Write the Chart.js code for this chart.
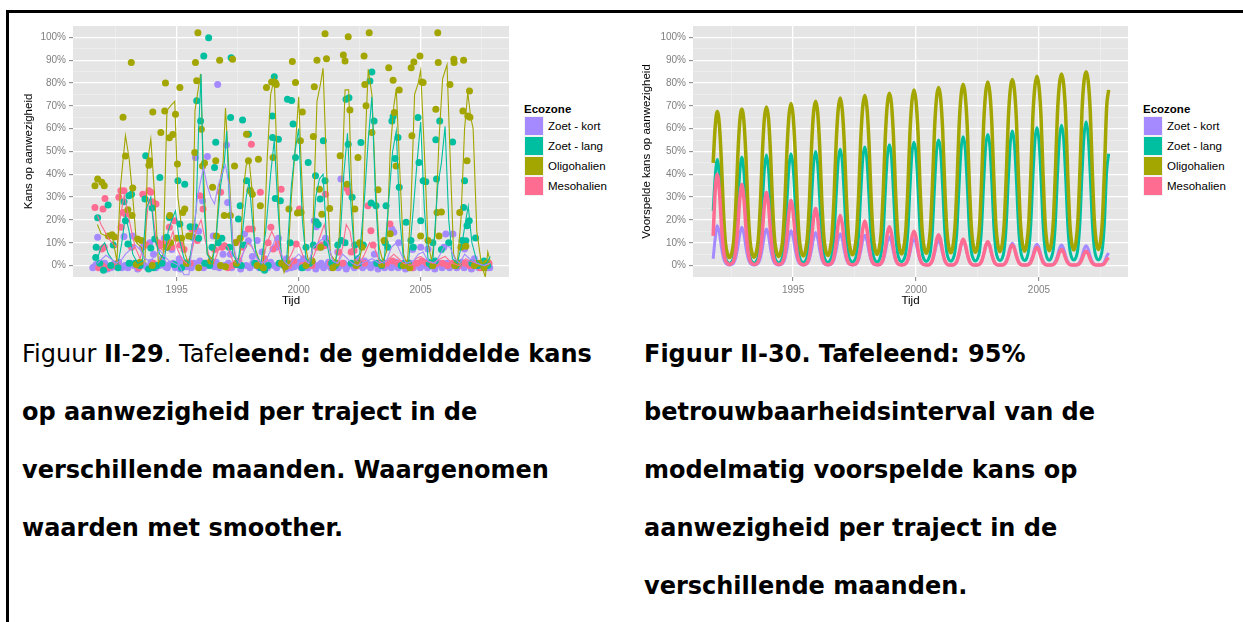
<!DOCTYPE html>
<html>
<head>
<meta charset="utf-8">
<script src="https://cdn.jsdelivr.net/npm/chart.js@4.4.1/dist/chart.umd.min.js"></script>
<style>
body { margin: 0; width: 1243px; height: 622px; overflow: hidden; position: relative; background: #fff; font-family: "Liberation Sans", Arial, sans-serif; }
#frame { position: absolute; left: 6px; top: 10px; width: 1260px; height: 640px; border-top: 3px solid #000; border-left: 3px solid #000; }
canvas { position: absolute; }
.legend { position: absolute; top: 102px; font-size: 11.5px; color: #000; }
.ltitle { font-weight: bold; height: 14px; line-height: 14px; }
.lrow { height: 20px; display: flex; align-items: center; }
.lkey { width: 20px; height: 20px; box-sizing: border-box; border: 1px solid #f2f2f2; margin-right: 4px; }
.caption { position: absolute; top: 325px; font-family: "DejaVu Sans", Verdana, sans-serif; font-size: 24px; line-height: 58px; color: #000; white-space: nowrap; }
</style>
</head>
<body>
<div id="frame"></div>
<canvas id="obsChart" width="505" height="301" style="left:10px;top:14px"></canvas>
<canvas id="predChart" width="505" height="301" style="left:630px;top:14px"></canvas>
<div class="caption" style="left:22px">Figuur <b>II</b>-<b>29</b>. Tafel<b>eend: de gemiddelde kans</b><br><b>op aanwezigheid per traject in de</b><br><b>verschillende maanden. Waargenomen</b><br><b>waarden met smoother.</b></div>
<div class="caption" style="left:644px"><b>Figuur II-30. Tafeleend: 95%</b><br><b>betrouwbaarheidsinterval van de</b><br><b>modelmatig voorspelde kans op</b><br><b>aanwezigheid per traject in de</b><br><b>verschillende maanden.</b></div>
<script>
const ecozones = ['Zoet - kort', 'Zoet - lang', 'Oligohalien', 'Mesohalien'];
const zoneColors = ['#A58AFF', '#00BFA0', '#A3A500', '#FF6C91'];

const yGrid = [0, 5, 10, 15, 20, 25, 30, 35, 40, 45, 50, 55, 60, 65, 70, 75, 80, 85, 90, 95, 100];
const yMajor = [0, 10, 20, 30, 40, 50, 60, 70, 80, 90, 100];
const xGrid = [1992.5, 1995, 1997.5, 2000, 2002.5, 2005, 2007.5];
const xMajor = [1995, 2000, 2005];

// Figuur II-29: waargenomen kans per traject [jaar, %]
const obsKort = [
  [1991.56,-1],[1991.62,-0.5],[1991.7,0.5],[1991.76,12.4],[1991.9,-1],[1992.05,1],[1992.15,-1.5],[1992.3,-1],[1992.4,0.5],[1992.5,-0.5],
  [1992.62,1.5],[1992.75,-1],[1992.84,12.8],[1992.88,0],[1993.0,-1],[1993.1,1],[1993.2,13],[1993.25,0],[1993.4,-1.5],[1993.55,1],
  [1993.6,8],[1993.68,0],[1993.8,-1],[1993.9,10],[1993.95,1.5],[1994.05,5],[1994.15,-1],[1994.3,0],[1994.4,3],[1994.45,1],
  [1994.5,12],[1994.55,-0.5],[1994.62,-1],[1994.72,0.5],[1994.8,7],[1994.85,1],[1994.95,-1],[1995.05,0.5],[1995.1,3],[1995.15,-1.5],
  [1995.28,1],[1995.4,-0.5],[1995.5,0],[1995.6,-1],[1995.72,1],[1995.77,47.4],[1995.9,15],[1995.95,2],[1996.06,28.4],[1996.1,-1],
  [1996.26,47.8],[1996.3,0],[1996.38,1],[1996.5,13],[1996.55,-0.5],[1996.62,1.5],[1996.68,79.4],[1996.75,-1],[1996.9,5],[1996.95,0],
  [1997.04,52.8],[1997.09,27.7],[1997.12,1],[1997.2,5],[1997.25,-1],[1997.38,0.5],[1997.5,1],[1997.62,-1.5],[1997.78,13.8],[1997.85,0],
  [1997.94,10.9],[1998.0,-1],[1998.1,4],[1998.12,1],[1998.25,0],[1998.3,11],[1998.38,-1],[1998.5,6],[1998.55,1],[1998.62,0.5],
  [1998.72,-1],[1998.85,1.5],[1998.98,0],[1999.08,8],[1999.1,-1],[1999.17,12],[1999.22,0.5],[1999.35,1],[1999.48,-1.5],[1999.5,3],
  [1999.58,0],[1999.68,-1],[1999.75,1],[1999.82,-0.5],[1999.9,0.5],[2000.0,1.5],[2000.1,-1],[2000.18,0],[2000.2,3],[2000.28,1],
  [2000.38,-1],[2000.48,0.5],[2000.58,1],[2000.64,19.7],[2000.7,-1.5],[2000.72,17],[2000.8,0],[2000.9,8],[2000.92,1],[2001.02,-1],
  [2001.1,12],[2001.12,0],[2001.22,1.5],[2001.32,-1],[2001.42,0.5],[2001.52,1],[2001.6,6],[2001.62,-1],[2001.72,0],[2001.73,37.9],
  [2001.85,1],[2001.95,-1.5],[2002.05,0],[2002.18,1],[2002.28,-1],[2002.4,3],[2002.42,0],[2002.5,1.5],[2002.62,-1],[2002.7,2],
  [2002.74,0],[2002.82,1],[2002.95,-1],[2003.05,0.5],[2003.1,5],[2003.15,1],[2003.25,-1.5],[2003.32,0],[2003.42,1],[2003.52,-1],
  [2003.6,0.5],[2003.7,1],[2003.8,-1],[2003.82,16],[2003.88,0],[2003.9,14.6],[2003.98,1.5],[2004.08,-1],[2004.1,10],[2004.18,0],
  [2004.28,1],[2004.38,-1.5],[2004.48,0],[2004.58,1],[2004.67,7],[2004.7,-1],[2004.78,0.5],[2004.88,1],[2004.98,-1],[2005.0,8],
  [2005.08,0],[2005.18,1.5],[2005.28,-1],[2005.3,7.3],[2005.38,0],[2005.48,1],[2005.58,-1.5],[2005.68,0.5],[2005.78,1],[2005.88,-1],
  [2005.95,8],[2005.98,0],[2006.03,13.8],[2006.08,1],[2006.18,-1],[2006.28,0.5],[2006.32,13.8],[2006.38,1],[2006.48,-1],[2006.58,0],
  [2006.68,1.5],[2006.78,-1],[2006.8,7.3],[2006.88,0],[2006.98,1],[2007.08,-1.5],[2007.18,0],[2007.2,3],[2007.28,1],[2007.38,-1],
  [2007.48,0.5],[2007.58,1],[2007.68,-1],[2007.75,0],[2007.83,-1]
];
const obsLang = [
  [1991.68,3.6],[1991.7,8],[1991.76,21],[1991.85,1],[1992.0,-2],[1992.19,26.5],[1992.3,0],[1992.4,9],[1992.6,-1],[1992.84,28],
  [1992.9,19.7],[1993.0,9.5],[1993.04,30.6],[1993.05,1],[1993.15,31.3],[1993.3,1],[1993.5,0],[1993.7,29.2],[1993.73,48.1],[1993.85,-1.5],
  [1993.94,7.7],[1993.99,25.2],[1994.05,-1],[1994.1,11.7],[1994.2,0],[1994.31,38.6],[1994.4,1],[1994.59,12.4],[1994.6,8],[1994.7,21.1],
  [1994.9,0.5],[1995.05,37.2],[1995.13,18.2],[1995.2,-1],[1995.33,35.6],[1995.45,1],[1995.55,17],[1995.65,12.4],[1995.75,17],[1995.82,72.2],
  [1995.9,12],[1995.98,63.4],[1996.11,91.8],[1996.15,1],[1996.31,99.9],[1996.35,0],[1996.45,8],[1996.55,43],[1996.6,54],[1996.7,10],
  [1996.85,12],[1997.15,8],[1997.21,64.9],[1997.23,91.1],[1997.45,0.5],[1997.53,20.4],[1997.6,26.2],[1997.65,0],[1997.7,63.8],[1997.75,9],
  [1997.86,37.2],[1997.94,57.6],[1998.2,1],[1998.45,-1],[1998.6,-2],[1998.75,0],[1998.92,65.6],[1998.93,56.1],[1999.0,82.8],[1999.04,29.4],
  [1999.17,55.4],[1999.2,1],[1999.25,28.4],[1999.4,0],[1999.54,72.9],[1999.65,10],[1999.71,72.4],[1999.77,62],[1999.87,47.4],[2000.15,-1],
  [2000.3,8],[2000.39,45.2],[2000.45,1],[2000.6,9],[2000.69,39.4],[2000.72,19.2],[2000.8,18],[2000.88,29.2],[2001.01,54.7],[2001.08,37.2],
  [2001.15,10],[2001.35,1],[2001.5,0],[2001.6,9],[2001.75,11],[2001.9,10],[2001.94,72.9],[2002.03,53.2],[2002.06,73.6],[2002.15,1],
  [2002.19,29.9],[2002.3,9],[2002.45,1],[2002.55,53.9],[2002.65,9],[2002.92,80.9],[2002.97,27.4],[2003.0,84.8],[2003.09,63.4],[2003.17,26.2],
  [2003.2,1],[2003.4,0],[2003.55,10],[2003.58,26.2],[2003.65,8],[2003.82,63.4],[2003.87,65.3],[2003.95,46.9],[2004.07,56.1],[2004.12,34.3],
  [2004.2,0],[2004.35,1],[2004.4,19],[2004.5,1],[2004.6,11],[2004.7,8],[2004.89,64.9],[2004.93,45.2],[2005.0,19.7],[2005.1,37.2],
  [2005.21,36.7],[2005.35,1],[2005.45,0],[2005.5,10],[2005.6,2],[2005.62,55.1],[2005.65,37.9],[2005.78,63.4],[2005.85,7],[2006.15,10],
  [2006.31,54.2],[2006.45,0],[2006.55,1],[2006.7,11],[2006.76,25.5],[2006.8,37.2],[2006.85,10.9],[2006.9,17.5],[2006.99,19.7],[2007.1,1],
  [2007.25,12.1],[2007.35,0],[2007.5,1],[2007.6,2],[2007.75,0]
];
const obsOligo = [
  [1991.65,35],[1991.76,38],[1991.93,36.5],[1992.03,35],[1992.2,13],[1992.35,13.5],[1992.45,12.5],[1992.8,65],[1992.9,48],[1993.0,24.5],
  [1993.14,89],[1993.17,22],[1993.2,34],[1993.35,0.5],[1993.4,11.7],[1993.5,1.5],[1993.56,11],[1993.86,44],[1993.89,46],[1994.0,0],
  [1994.02,67.3],[1994.35,58.3],[1994.51,67.8],[1994.54,80],[1994.6,8],[1994.7,56],[1994.72,22],[1994.75,10],[1994.84,57.5],[1994.95,66.3],
  [1995.0,12],[1995.03,44.5],[1995.13,78],[1995.2,12],[1995.25,23.3],[1995.33,24.8],[1995.4,1],[1995.49,13],[1995.6,13],[1995.74,49.6],
  [1995.77,89],[1995.82,81],[1995.87,102],[1995.9,-1],[1996.01,59.8],[1996.06,43.7],[1996.14,45],[1996.4,2],[1996.47,34.3],[1996.6,46],
  [1996.63,13],[1996.76,90],[1996.8,0],[1996.95,22],[1997.0,-0.5],[1997.2,22],[1997.29,90.4],[1997.37,43.7],[1997.4,10],[1997.45,1],
  [1997.6,12],[1997.86,57.6],[1997.94,46],[1998.0,33],[1998.02,32.8],[1998.1,31.3],[1998.3,0],[1998.35,46.6],[1998.43,26.2],[1998.55,-1],
  [1998.68,78],[1998.89,80.5],[1998.95,47.4],[1999.04,80.2],[1999.08,79.4],[1999.3,1],[1999.45,-0.5],[1999.55,1],[1999.6,24.8],[1999.74,89.4],
  [1999.87,80.2],[1999.95,23],[2000.07,54.7],[2000.1,23.3],[2000.15,67.3],[2000.3,0],[2000.55,2],[2000.6,56.6],[2000.64,78.4],[2000.75,90],
  [2000.85,33.5],[2000.9,8],[2000.95,22.5],[2001.08,101.6],[2001.14,90.7],[2001.27,25],[2001.4,-1],[2001.55,1],[2001.7,48.1],[2001.83,92.3],
  [2001.9,89.7],[2001.98,35.7],[2002.03,100.3],[2002.1,68.2],[2002.3,24.8],[2002.35,0],[2002.43,47.4],[2002.5,10],[2002.6,8],[2002.68,91.8],
  [2002.71,79.4],[2002.76,70],[2002.89,102],[2003.0,58.3],[2003.25,33.2],[2003.4,0.5],[2003.5,11],[2003.69,86.7],[2003.75,14],[2003.87,81.2],
  [2003.92,67.1],[2003.99,43.7],[2004.12,77],[2004.3,0],[2004.45,1],[2004.55,-1],[2004.61,86.7],[2004.64,56.9],[2004.72,89.2],[2004.97,91.8],
  [2005.0,13],[2005.05,80.5],[2005.1,80.2],[2005.3,11],[2005.5,0],[2005.62,68.5],[2005.67,23.3],[2005.7,102],[2005.72,89],[2005.75,13],
  [2005.85,23.5],[2006.2,79.4],[2006.36,90.4],[2006.37,89],[2006.4,0],[2006.5,1],[2006.6,23.3],[2006.65,8],[2006.73,67.8],[2006.76,90],
  [2006.85,8.5],[2006.9,46],[2006.93,65.6],[2007.0,76.5],[2007.02,65],[2007.2,0],[2007.4,1],[2007.6,-1],[2007.7,1]
];
const obsMeso = [
  [1991.65,25.5],[1991.8,-1],[1991.93,7.3],[1991.95,0],[1991.98,24.8],[1992.03,8],[1992.06,29.4],[1992.2,-1],[1992.45,0],[1992.55,1],
  [1992.63,29.9],[1992.71,32.8],[1992.72,16.8],[1992.8,23.3],[1992.84,32.8],[1992.9,22.6],[1993.15,8],[1993.35,1],[1993.45,-1],[1993.61,31.3],
  [1993.75,9],[1993.86,32.8],[1993.94,32.1],[1994.0,28],[1994.05,1],[1994.15,27],[1994.25,10],[1994.31,8.7],[1994.43,9.5],[1994.55,9],
  [1994.7,16.8],[1994.8,8],[1994.9,19.7],[1995.15,9],[1995.3,7],[1995.55,1],[1995.62,16],[1995.7,16],[1995.85,11],[1995.95,30.6],
  [1996.08,24.8],[1996.2,1],[1996.4,1],[1996.55,7],[1996.8,32.1],[1996.85,8],[1996.96,8.7],[1997.1,-1],[1997.3,0],[1997.45,10.2],
  [1997.55,2],[1997.7,8],[1997.94,16],[1998.06,53.2],[1998.1,16],[1998.25,1],[1998.43,32.1],[1998.6,3],[1998.75,10],[1998.86,16.8],
  [1998.95,7.3],[1999.15,9.5],[1999.28,33.5],[1999.35,1],[1999.6,0],[1999.8,2],[1999.9,9.5],[2000.03,24.8],[2000.15,0],[2000.35,1],
  [2000.55,0],[2000.75,8],[2000.95,9],[2001.05,8.7],[2001.1,31.3],[2001.3,1],[2001.45,0],[2001.65,6],[2001.8,1],[2001.98,33.8],
  [2002.06,32.1],[2002.15,6],[2002.27,6.6],[2002.4,0],[2002.55,9],[2002.7,1],[2002.84,26.2],[2002.96,15.3],[2003.05,9],[2003.25,1],
  [2003.45,0],[2003.6,1],[2003.74,18.2],[2003.85,2],[2004.05,1],[2004.25,0],[2004.45,1],[2004.65,-1],[2004.85,1],[2005.05,2],
  [2005.25,1],[2005.45,0],[2005.65,1],[2005.9,1],[2006.1,0],[2006.3,1],[2006.55,0],[2006.8,1],[2007.0,0],[2007.2,1],
  [2007.45,-1],[2007.65,0],[2007.8,1]
];

// smoother per ecozone [jaar, %]
const smoothKort = [
  [1991.75,1],[1991.95,3],[1992.1,4.5],[1992.3,3],[1992.5,1],[1992.7,2],[1992.9,5],[1993.1,7],[1993.3,9],[1993.5,7],[1993.7,3],[1993.9,2],
  [1994.1,4],[1994.3,7],[1994.5,4],[1994.7,2],[1994.9,1],[1995.1,0],[1995.3,-4],[1995.5,-4],[1995.7,15],[1995.85,30],[1996.0,38],[1996.1,43],
  [1996.25,35],[1996.4,30],[1996.55,27],[1996.7,35],[1996.85,40],[1997.0,44],[1997.15,35],[1997.3,10],[1997.45,3],[1997.6,1],[1997.8,8],[1997.95,12],
  [1998.1,8],[1998.3,3],[1998.5,1],[1998.7,3],[1998.9,8],[1999.05,12],[1999.2,8],[1999.4,2],[1999.6,0],[1999.8,3],[2000.0,5],[2000.2,3],
  [2000.4,1],[2000.6,8],[2000.8,10],[2001.0,12],[2001.2,10],[2001.4,2],[2001.6,1],[2001.8,5],[2002.0,3],[2002.2,1],[2002.4,0],[2002.6,1],
  [2002.8,2],[2003.0,3],[2003.3,1],[2003.6,2],[2003.8,8],[2004.0,10],[2004.2,5],[2004.4,1],[2004.7,2],[2004.9,5],[2005.1,6],[2005.3,2],
  [2005.6,1],[2005.8,5],[2006.0,9],[2006.2,8],[2006.4,3],[2006.6,1],[2006.8,5],[2007.0,3],[2007.3,1],[2007.6,0],[2007.85,1]
];
const smoothLang = [
  [1991.75,3],[1991.9,8],[1992.05,10],[1992.2,5],[1992.4,2],[1992.6,1],[1992.75,10],[1992.9,22],[1993.05,15],[1993.2,5],[1993.4,1],[1993.6,2],
  [1993.75,25],[1993.94,30],[1994.1,12],[1994.3,5],[1994.5,3],[1994.65,15],[1994.8,20],[1994.95,24],[1995.1,12],[1995.3,3],[1995.5,1],[1995.65,10],
  [1995.8,25],[1995.9,60],[1996.0,84],[1996.1,30],[1996.25,5],[1996.45,1],[1996.6,10],[1996.8,35],[1996.95,45],[1997.05,59],[1997.15,30],[1997.3,5],
  [1997.5,1],[1997.7,15],[1997.85,30],[1997.97,37],[1998.1,20],[1998.25,5],[1998.45,1],[1998.65,15],[1998.85,40],[1999.0,55],[1999.15,25],[1999.3,3],
  [1999.5,1],[1999.7,35],[1999.85,50],[2000.0,60],[2000.15,20],[2000.3,3],[2000.5,1],[2000.7,30],[2000.85,38],[2001.0,40],[2001.15,10],[2001.3,2],
  [2001.5,1],[2001.7,12],[2001.85,40],[2002.0,58],[2002.15,25],[2002.3,3],[2002.5,5],[2002.7,30],[2002.85,55],[2003.0,74],[2003.15,30],[2003.3,3],
  [2003.5,1],[2003.7,30],[2003.85,50],[2004.0,59],[2004.15,20],[2004.3,2],[2004.5,1],[2004.7,25],[2004.85,45],[2005.0,63],[2005.15,25],[2005.3,3],
  [2005.5,2],[2005.7,35],[2005.85,45],[2006.0,61],[2006.15,20],[2006.3,3],[2006.5,1],[2006.7,10],[2006.85,20],[2006.95,26],[2007.1,10],[2007.3,2],
  [2007.5,0],[2007.7,1],[2007.85,4]
];
const smoothOligo = [
  [1991.75,18],[1991.9,14],[1992.1,13],[1992.35,13.5],[1992.55,2],[1992.7,35],[1992.9,57],[1993.05,47],[1993.2,30],[1993.35,10],[1993.55,8],[1993.7,2],
  [1993.8,45],[1993.94,55.5],[1994.1,30],[1994.25,1],[1994.45,5],[1994.6,68],[1994.75,70],[1994.92,72],[1995.05,30],[1995.2,17],[1995.35,5],[1995.5,0],
  [1995.65,10],[1995.75,68],[1995.85,75],[1995.98,84],[1996.1,40],[1996.25,5],[1996.45,3],[1996.6,10],[1996.75,35],[1996.9,45],[1997.0,69],[1997.15,40],
  [1997.3,10],[1997.45,1],[1997.6,5],[1997.75,35],[1997.85,44],[1997.97,46],[1998.1,32],[1998.2,8],[1998.4,2],[1998.55,0],[1998.7,45],[1998.85,75],
  [1999.0,82],[1999.1,50],[1999.25,8],[1999.4,-3],[1999.55,1],[1999.7,30],[1999.85,50],[2000.0,74],[2000.1,45],[2000.25,10],[2000.4,2],[2000.55,5],
  [2000.75,72],[2000.9,80],[2001.0,86.5],[2001.15,40],[2001.3,5],[2001.5,2],[2001.65,10],[2001.8,45],[2001.9,77],[2002.05,77],[2002.15,40],[2002.3,2],
  [2002.45,1],[2002.6,8],[2002.75,60],[2002.85,86],[2003.0,75],[2003.15,35],[2003.3,8],[2003.45,2],[2003.6,6],[2003.75,50],[2003.9,70],[2004.0,77.5],
  [2004.15,40],[2004.3,5],[2004.45,0],[2004.6,25],[2004.75,75],[2004.9,80],[2005.0,85.5],[2005.15,50],[2005.3,10],[2005.45,2],[2005.6,15],[2005.75,55],
  [2005.9,82],[2006.08,88],[2006.2,50],[2006.35,5],[2006.5,1],[2006.65,20],[2006.8,60],[2006.93,76],[2007.05,65],[2007.15,60],[2007.3,15],[2007.5,0],
  [2007.65,-5],[2007.75,6],[2007.85,2]
];
const smoothMeso = [
  [1991.75,22],[1991.9,18],[1992.05,15],[1992.2,12],[1992.35,10],[1992.55,8],[1992.7,22],[1992.85,31],[1993.0,23],[1993.15,15],[1993.3,8],[1993.5,3],
  [1993.7,12],[1993.85,29],[1994.0,25],[1994.15,12],[1994.3,8],[1994.5,6],[1994.7,10],[1994.85,15],[1995.0,8],[1995.2,3],[1995.4,1],[1995.6,5],
  [1995.8,15],[1996.0,20],[1996.15,12],[1996.35,3],[1996.55,2],[1996.75,8],[1996.95,10],[1997.1,8],[1997.3,2],[1997.5,1],[1997.7,5],[1997.9,10],
  [1998.1,8],[1998.3,3],[1998.5,1],[1998.7,10],[1998.9,15],[1999.1,10],[1999.3,3],[1999.5,1],[1999.7,5],[1999.9,10],[2000.05,8],[2000.25,2],
  [2000.45,1],[2000.65,5],[2000.85,12],[2001.05,18],[2001.2,10],[2001.4,2],[2001.6,1],[2001.8,8],[2001.95,18],[2002.1,15],[2002.3,3],[2002.5,1],
  [2002.7,5],[2002.9,10],[2003.1,8],[2003.3,2],[2003.5,1],[2003.7,3],[2003.9,5],[2004.1,3],[2004.3,1],[2004.6,0],[2004.8,3],[2005.0,4],
  [2005.2,2],[2005.5,1],[2005.8,3],[2006.0,4],[2006.3,1],[2006.6,0],[2006.85,3],[2007.0,2],[2007.3,1],[2007.6,0],[2007.85,1]
];

// Figuur II-30: voorspelde kans, een waarde per maand vanaf predStart
const predStart = 1991.75;
const predKort = [
  3, 12,
  17.5, 14.5, 8.2, 3.5, 1.2, 0.5, 0.3, 0.5, 1.2, 3.4, 7.9, 13.9,
  16.8, 13.9, 7.9, 3.4, 1.2, 0.5, 0.3, 0.5, 1.1, 3.2, 7.5, 13.3,
  16, 13.3, 7.5, 3.2, 1.1, 0.5, 0.3, 0.5, 1.1, 3.1, 7.2, 12.7,
  15.3, 12.7, 7.2, 3.1, 1.1, 0.5, 0.3, 0.4, 1, 2.9, 6.8, 12,
  14.5, 12, 6.8, 2.9, 1, 0.4, 0.3, 0.4, 1, 2.8, 6.6, 11.6,
  14, 11.6, 6.6, 2.8, 1, 0.4, 0.3, 0.4, 0.9, 2.7, 6.3, 11,
  13.3, 11, 6.3, 2.7, 0.9, 0.4, 0.3, 0.4, 0.9, 2.5, 5.9, 10.4,
  12.5, 10.4, 5.9, 2.5, 0.9, 0.4, 0.3, 0.4, 0.8, 2.4, 5.5, 9.8,
  11.8, 9.8, 5.5, 2.4, 0.8, 0.4, 0.3, 0.3, 0.8, 2.2, 5.3, 9.3,
  11.2, 9.3, 5.3, 2.2, 0.8, 0.3, 0.3, 0.3, 0.7, 2.1, 5, 8.9,
  10.7, 8.9, 5, 2.1, 0.7, 0.3, 0.3, 0.3, 0.7, 2, 4.8, 8.5,
  10.2, 8.5, 4.8, 2, 0.7, 0.3, 0.3, 0.3, 0.7, 2, 4.6, 8.1,
  9.8, 8.1, 4.6, 2, 0.7, 0.3, 0.3, 0.3, 0.7, 1.9, 4.4, 7.8,
  9.4, 7.8, 4.4, 1.9, 0.7, 0.3, 0.3, 0.3, 0.6, 1.8, 4.2, 7.5,
  9, 7.5, 4.2, 1.8, 0.6, 0.3, 0.3, 0.3, 0.6, 1.7, 4.1, 7.2,
  8.7, 7.2, 4.1, 1.7, 0.6, 0.3, 0.3, 0.3, 0.6, 1.7, 4, 5.5
];
const predLang = [
  24, 39,
  46.5, 40, 25, 10, 3.5, 1.5, 1, 1.6, 3.8, 10.6, 26, 41.1,
  47.5, 41.1, 26, 10.6, 3.8, 1.6, 1.1, 1.8, 4, 11.2, 27, 42.3,
  48.5, 42.3, 27, 11.2, 4, 1.8, 1.2, 1.9, 4.3, 11.8, 28, 43.4,
  49, 43.4, 28, 11.8, 4.3, 1.9, 1.3, 2, 4.6, 12.4, 29, 44.5,
  50, 44.5, 29, 12.4, 4.6, 2, 1.4, 2.2, 4.8, 13, 30, 45.7,
  51, 45.7, 30, 13, 4.8, 2.2, 1.5, 2.3, 5.1, 13.6, 31, 46.8,
  52, 46.8, 31, 13.6, 5.1, 2.3, 1.6, 2.4, 5.4, 14.2, 32, 47.9,
  53, 47.9, 32, 14.2, 5.4, 2.4, 1.7, 2.6, 5.6, 14.8, 33, 49.1,
  54, 49.1, 33, 14.8, 5.6, 2.6, 1.8, 2.7, 5.9, 15.4, 34, 50.2,
  55, 50.2, 34, 15.4, 5.9, 2.7, 1.9, 2.8, 6.2, 16, 35, 51.3,
  56.5, 51.3, 35, 16, 6.2, 2.8, 2, 3, 6.4, 16.6, 36, 52.5,
  57.5, 52.5, 36, 16.6, 6.4, 3, 2.1, 3.1, 6.7, 17.2, 37, 53.6,
  59, 53.6, 37, 17.2, 6.7, 3.1, 2.2, 3.2, 7, 17.8, 38, 54.7,
  60.5, 54.7, 38, 17.8, 7, 3.2, 2.3, 3.4, 7.2, 18.4, 39, 55.9,
  61.5, 55.9, 39, 18.4, 7.2, 3.4, 2.4, 3.5, 7.5, 19, 40, 57,
  63, 57, 40, 19, 7.5, 3.5, 2.5, 3.6, 7.8, 19.6, 41, 49
];
const predOligo = [
  45, 61,
  67.5, 62, 46, 24, 10, 5, 3.5, 5.3, 10.7, 25.2, 47.5, 63.3,
  68.5, 63.3, 47.5, 25.2, 10.7, 5.3, 3.7, 5.7, 11.3, 26.4, 48.9, 64.5,
  69.5, 64.5, 48.9, 26.4, 11.3, 5.7, 4, 6, 12, 27.6, 50.4, 65.8,
  71, 65.8, 50.4, 27.6, 12, 6, 4.2, 6.3, 12.7, 28.8, 51.9, 67.1,
  72, 67.1, 51.9, 28.8, 12.7, 6.3, 4.4, 6.7, 13.3, 30, 53.3, 68.3,
  73.5, 68.3, 53.3, 30, 13.3, 6.7, 4.7, 7, 14, 31.2, 54.8, 69.6,
  74.5, 69.6, 54.8, 31.2, 14, 7, 4.9, 7.3, 14.7, 32.4, 56.3, 70.9,
  75.5, 70.9, 56.3, 32.4, 14.7, 7.3, 5.1, 7.7, 15.3, 33.6, 57.7, 72.1,
  77, 72.1, 57.7, 33.6, 15.3, 7.7, 5.4, 8, 16, 34.8, 59.2, 73.4,
  78, 73.4, 59.2, 34.8, 16, 8, 5.6, 8.3, 16.7, 36, 60.7, 74.7,
  79.5, 74.7, 60.7, 36, 16.7, 8.3, 5.8, 8.7, 17.3, 37.2, 62.1, 75.9,
  80.5, 75.9, 62.1, 37.2, 17.3, 8.7, 6.1, 9, 18, 38.4, 63.6, 77.2,
  81.5, 77.2, 63.6, 38.4, 18, 9, 6.3, 9.3, 18.7, 39.6, 65.1, 78.5,
  83, 78.5, 65.1, 39.6, 18.7, 9.3, 6.5, 9.7, 19.3, 40.8, 66.5, 79.7,
  84, 79.7, 66.5, 40.8, 19.3, 9.7, 6.8, 10, 20, 42, 68, 81,
  85, 81, 68, 42, 20, 10, 7, 10.3, 20.7, 43, 69, 77
];
const predMeso = [
  13, 33,
  40, 33.2, 18.4, 7.2, 2.4, 1, 0.5, 0.9, 2.1, 6.4, 16.3, 29.5,
  35.5, 29.5, 16.3, 6.4, 2.1, 0.9, 0.5, 0.8, 1.9, 5.8, 14.7, 26.6,
  32, 26.6, 14.7, 5.8, 1.9, 0.8, 0.5, 0.7, 1.7, 5.1, 13.1, 23.7,
  28.5, 23.7, 13.1, 5.1, 1.7, 0.7, 0.4, 0.6, 1.5, 4.5, 11.5, 20.8,
  25, 20.8, 11.5, 4.5, 1.5, 0.6, 0.4, 0.6, 1.3, 4, 10.1, 18.3,
  22, 18.3, 10.1, 4, 1.3, 0.6, 0.4, 0.5, 1.2, 3.5, 9, 16.2,
  19.5, 16.2, 9, 3.5, 1.2, 0.5, 0.4, 0.4, 1, 3.1, 7.8, 14.1,
  17, 14.1, 7.8, 3.1, 1, 0.4, 0.3, 0.4, 0.9, 2.7, 6.9, 12.5,
  15, 12.5, 6.9, 2.7, 0.9, 0.4, 0.3, 0.3, 0.8, 2.4, 6.2, 11.2,
  13.5, 11.2, 6.2, 2.4, 0.8, 0.3, 0.3, 0.3, 0.7, 2.1, 5.3, 9.5,
  11.5, 9.5, 5.3, 2.1, 0.7, 0.3, 0.3, 0.3, 0.6, 1.9, 4.8, 8.7,
  10.5, 8.7, 4.8, 1.9, 0.6, 0.3, 0.3, 0.3, 0.5, 1.6, 4.1, 7.5,
  9, 7.5, 4.1, 1.6, 0.5, 0.3, 0.3, 0.3, 0.5, 1.4, 3.7, 6.6,
  8, 6.6, 3.7, 1.4, 0.5, 0.3, 0.3, 0.3, 0.4, 1.3, 3.2, 5.8,
  7, 5.8, 3.2, 1.3, 0.4, 0.3, 0.3, 0.3, 0.4, 1.1, 2.9, 5.2,
  6.3, 5.2, 2.9, 1.1, 0.4, 0.3, 0.3, 0.3, 0.4, 1, 2.5, 3.5
];

const toXY = pairs => pairs.map(p => ({x: p[0], y: p[1]}));
const monthly = vals => vals.map((v, i) => ({x: predStart + i / 12, y: v}));

Chart.defaults.font.family = "'Liberation Sans', Arial, sans-serif";

// grijs paneel achter de grafiek, zoals ggplot
const panelBg = {
  id: 'panelBg',
  beforeDraw(chart) {
    const {ctx, chartArea: a} = chart;
    ctx.save();
    ctx.fillStyle = '#E5E5E5';
    ctx.fillRect(a.left, a.top, a.right - a.left, a.bottom - a.top);
    ctx.restore();
  }
};

function gridOpts(major) {
  return {
    color: c => major.includes(c.tick.value) ? '#FFFFFF' : '#F2F2F2',
    lineWidth: c => major.includes(c.tick.value) ? 1.3 : 0.6,
    tickColor: c => major.includes(c.tick.value) ? '#7F7F7F' : 'rgba(0,0,0,0)',
    tickLength: 4,
    tickWidth: 1
  };
}

function axes(xMin, xMax, yTitle, yTitlePad) {
  return {
    x: {
      type: 'linear', min: xMin, max: xMax,
      afterBuildTicks: axis => { axis.ticks = xGrid.map(v => ({value: v})); },
      afterFit: axis => { axis.height = 38; },
      grid: gridOpts(xMajor),
      border: {display: false},
      ticks: {autoSkip: false, maxRotation: 0, color: '#7F7F7F', font: {size: 10}, padding: 3,
        callback: v => xMajor.includes(v) ? String(v) : ''},
      title: {display: true, text: 'Tijd', color: '#000', font: {size: 11.5}, padding: {top: 0, bottom: 7}}
    },
    y: {
      type: 'linear', min: -5, max: 105,
      afterBuildTicks: axis => { axis.ticks = yGrid.map(v => ({value: v})); },
      afterFit: axis => { axis.width = 63; },
      grid: gridOpts(yMajor),
      border: {display: false},
      ticks: {autoSkip: false, color: '#7F7F7F', font: {size: 10}, padding: 3,
        callback: v => yMajor.includes(v) ? v + '%' : ''},
      title: {display: true, text: yTitle, color: '#000', font: {size: 11.5}, padding: {top: yTitlePad, bottom: 0}}
    }
  };
}

const baseOptions = {
  responsive: false, animation: false, events: [],
  plugins: {legend: {display: false}, tooltip: {enabled: false}}
};

// Figuur II-29
const obsSets = [obsKort, obsLang, obsOligo, obsMeso];
const smoothSets = [smoothKort, smoothLang, smoothOligo, smoothMeso];
const obsDatasets = [];
smoothSets.forEach((s, i) => obsDatasets.push({
  data: toXY(s), showLine: true, borderColor: zoneColors[i], borderWidth: 1.1,
  pointRadius: 0, tension: 0, order: 0
}));
[2, 1, 3, 0].forEach((i, k) => obsDatasets.push({
  data: toXY(obsSets[i]), backgroundColor: zoneColors[i], borderWidth: 0,
  pointRadius: 3.5, order: 1 + k
}));

new Chart(document.getElementById('obsChart'), {
  type: 'scatter',
  data: {datasets: obsDatasets},
  options: Object.assign({}, baseOptions, {
    layout: {padding: {top: 12, right: 6, left: 0, bottom: 0}},
    scales: axes(1990.75, 2008.62, 'Kans op aanwezigheid', 12)
  }),
  plugins: [panelBg]
});

// Figuur II-30
const predSets = [predKort, predLang, predOligo, predMeso];
const predWidths = [3, 3, 3.5, 3.5];
const predDatasets = predSets.map((s, i) => ({
  data: monthly(s), showLine: true, borderColor: zoneColors[i], borderWidth: predWidths[i],
  pointRadius: 0, cubicInterpolationMode: 'monotone', order: 3 - i
}));

new Chart(document.getElementById('predChart'), {
  type: 'scatter',
  data: {datasets: predDatasets},
  options: Object.assign({}, baseOptions, {
    layout: {padding: {top: 12, right: 7, left: 0, bottom: 0}},
    scales: axes(1990.93, 2008.62, 'Voorspelde kans op aanwezigheid', 10)
  }),
  plugins: [panelBg]
});

// legenda's (ggplot-stijl, rechts van het paneel)
function drawLegend(left) {
  const box = document.createElement('div');
  box.className = 'legend';
  box.style.left = left + 'px';
  let html = '<div class="ltitle">Ecozone</div>';
  ecozones.forEach((name, i) => {
    html += '<div class="lrow"><span class="lkey" style="background:' + zoneColors[i] + '"></span><span>' + name + '</span></div>';
  });
  box.innerHTML = html;
  document.body.appendChild(box);
}
drawLegend(524);
drawLegend(1143);
</script>
</body>
</html>
